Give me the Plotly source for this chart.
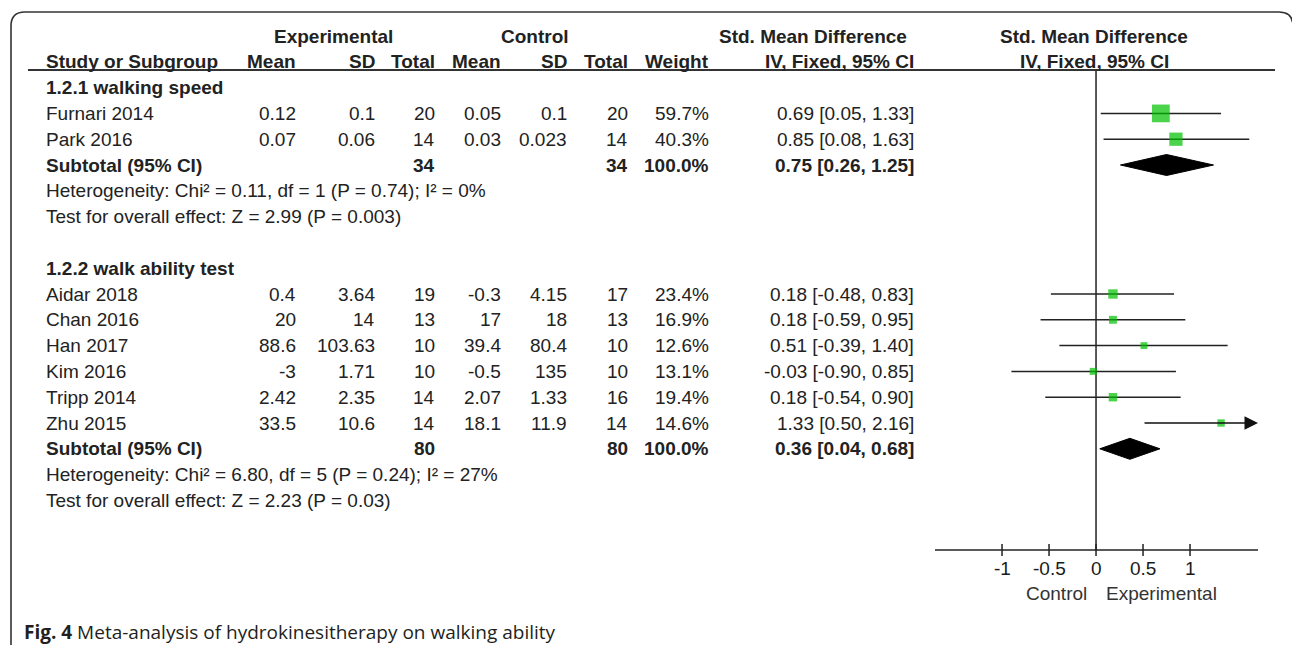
import plotly.graph_objects as go

W, H = 1292, 645

# ---------------- data ----------------
subgroups = ["1.2.1 walking speed", "1.2.2 walk ability test"]
study_group = [0, 0, 1, 1, 1, 1, 1, 1]
studies = ["Furnari 2014", "Park 2016", "Aidar 2018", "Chan 2016",
           "Han 2017", "Kim 2016", "Tripp 2014", "Zhu 2015"]
exp_mean = [0.12, 0.07, 0.4, 20, 88.6, -3, 2.42, 33.5]
exp_sd = [0.1, 0.06, 3.64, 14, 103.63, 1.71, 2.35, 10.6]
exp_n = [20, 14, 19, 13, 10, 10, 14, 14]
ctl_mean = [0.05, 0.03, -0.3, 17, 39.4, -0.5, 2.07, 18.1]
ctl_sd = [0.1, 0.023, 4.15, 18, 80.4, 135, 1.33, 11.9]
ctl_n = [20, 14, 17, 13, 10, 10, 16, 14]
weight = [59.7, 40.3, 23.4, 16.9, 12.6, 13.1, 19.4, 14.6]
smd = [0.69, 0.85, 0.18, 0.18, 0.51, -0.03, 0.18, 1.33]
ci_lo = [0.05, 0.08, -0.48, -0.59, -0.39, -0.90, -0.54, 0.50]
ci_hi = [1.33, 1.63, 0.83, 0.95, 1.40, 0.85, 0.90, 2.16]

sub_exp_n = [34, 80]
sub_ctl_n = [34, 80]
sub_weight = [100.0, 100.0]
sub_smd = [0.75, 0.36]
sub_lo = [0.26, 0.04]
sub_hi = [1.25, 0.68]
heterogeneity = ["Heterogeneity: Chi\u00b2 = 0.11, df = 1 (P = 0.74); I\u00b2 = 0%",
                 "Heterogeneity: Chi\u00b2 = 6.80, df = 5 (P = 0.24); I\u00b2 = 27%"]
overall = ["Test for overall effect: Z = 2.99 (P = 0.003)",
           "Test for overall effect: Z = 2.23 (P = 0.03)"]

x_ticks = [-1, -0.5, 0, 0.5, 1]
x_tick_labels = ["-1", "-0.5", "0", "0.5", "1"]
favours = ["Control", "Experimental"]
caption_label = "Fig. 4"
caption_text = "Meta-analysis of hydrokinesitherapy on walking ability"

# ---------------- layout constants ----------------
FONT = "Liberation Sans, Arial, sans-serif"
INK = "#222222"
GREEN = "#00C000"
ROW0, DY = 36, 25.8            # first header row and row pitch (px)
AX_LO, AX_HI = -1.713, 1.723   # forest-plot scale limits
FOREST_L, FOREST_R = 935, 1258
AXIS_Y = 550
HEAD_LINE_Y = 70
DIAMOND_HALF = 10.5

COL = dict(study=45, exp_mean=297, exp_sd=376, exp_n=436, ctl_mean=502,
           ctl_sd=568, ctl_n=629, weight=710, ci=915)


def row_y(i):
    return ROW0 + DY * i


def fmt(v):
    return f"{v:g}"


def ci_text(e, lo, hi):
    return f"{e:.2f} [{lo:.2f}, {hi:.2f}]"


annotations = []


def txt(x, y, s, anchor="left", bold=False, size=19, color=INK, xref="x", family=FONT, xshift=0):
    annotations.append(dict(
        x=x, y=y, xref=xref, yref="y", text=f"<b>{s}</b>" if bold else s,
        showarrow=False, xanchor=anchor, yanchor="middle", xshift=xshift,
        font=dict(family=family, size=size, color=color), borderpad=0))


# header rows
txt(333, row_y(0), "Experimental", "center", True)
txt(535, row_y(0), "Control", "center", True)
txt(908, row_y(0), "Std. Mean Difference", "right", True)
txt(1094, row_y(0), "Std. Mean Difference", "center", True)
txt(COL["study"], row_y(1), "Study or Subgroup", "left", True)
for key, label in [("exp_mean", "Mean"), ("exp_sd", "SD"), ("exp_n", "Total"),
                   ("ctl_mean", "Mean"), ("ctl_sd", "SD"), ("ctl_n", "Total"),
                   ("weight", "Weight"), ("ci", "IV, Fixed, 95% CI")]:
    txt(COL[key], row_y(1), label, "right", True)
txt(1094, row_y(1), "IV, Fixed, 95% CI", "center", True)

# body rows
study_rows = []
sub_rows = []
row = 2
for g, name in enumerate(subgroups):
    txt(COL["study"], row_y(row), name, "left", True)
    row += 1
    for k in range(len(studies)):
        if study_group[k] != g:
            continue
        y = row_y(row)
        study_rows.append(y)
        txt(COL["study"], y, studies[k])
        txt(COL["exp_mean"], y, fmt(exp_mean[k]), "right")
        txt(COL["exp_sd"], y, fmt(exp_sd[k]), "right")
        txt(COL["exp_n"], y, fmt(exp_n[k]), "right")
        txt(COL["ctl_mean"], y, fmt(ctl_mean[k]), "right")
        txt(COL["ctl_sd"], y, fmt(ctl_sd[k]), "right")
        txt(COL["ctl_n"], y, fmt(ctl_n[k]), "right")
        txt(COL["weight"], y, f"{weight[k]:.1f}%", "right")
        txt(COL["ci"], y, ci_text(smd[k], ci_lo[k], ci_hi[k]), "right")
        row += 1
    y = row_y(row)
    sub_rows.append(y)
    txt(COL["study"], y, "Subtotal (95% CI)", "left", True)
    txt(COL["exp_n"], y, fmt(sub_exp_n[g]), "right", True)
    txt(COL["ctl_n"], y, fmt(sub_ctl_n[g]), "right", True)
    txt(COL["weight"], y, f"{sub_weight[g]:.1f}%", "right", True)
    txt(COL["ci"], y, ci_text(sub_smd[g], sub_lo[g], sub_hi[g]), "right", True)
    row += 1
    txt(COL["study"], row_y(row), heterogeneity[g])
    row += 1
    txt(COL["study"], row_y(row), overall[g])
    row += 2

fig = go.Figure()
XY = dict(xaxis="x2", yaxis="y")

# zero line
fig.add_trace(go.Scatter(x=[0, 0], y=[HEAD_LINE_Y, AXIS_Y], mode="lines",
                         line=dict(color=INK, width=1.5), hoverinfo="skip", **XY))

# confidence intervals
cx, cy = [], []
for k in range(len(studies)):
    if ci_hi[k] > AX_HI:
        annotations.append(dict(
            x=AX_HI, y=study_rows[k], xref="x2", yref="y",
            ax=max(ci_lo[k], AX_LO), ay=study_rows[k], axref="x2", ayref="y",
            text="", showarrow=True, arrowhead=2, arrowsize=1.8, arrowwidth=1.5,
            arrowcolor="#111111", standoff=0, startstandoff=0))
        continue
    cx += [max(ci_lo[k], AX_LO), min(ci_hi[k], AX_HI), None]
    cy += [study_rows[k], study_rows[k], None]
fig.add_trace(go.Scatter(x=cx, y=cy, mode="lines", line=dict(color=INK, width=1.5),
                         hoverinfo="skip", **XY))

# study estimates, box size grows with weight
fig.add_trace(go.Scatter(
    x=smd, y=study_rows, mode="markers",
    marker=dict(symbol="square", color=GREEN, size=[4 + 0.23 * w for w in weight],
                line=dict(width=0)),
    hoverinfo="skip", **XY))

# pooled diamonds
for g in range(len(subgroups)):
    y = sub_rows[g]
    fig.add_trace(go.Scatter(
        x=[sub_lo[g], sub_smd[g], sub_hi[g], sub_smd[g], sub_lo[g]],
        y=[y, y - DIAMOND_HALF, y, y + DIAMOND_HALF, y], mode="lines", fill="toself",
        fillcolor="#000000", line=dict(color="#000000", width=1),
        hoverinfo="skip", **XY))

# forest axis with ticks crossing the line
fig.add_trace(go.Scatter(x=[AX_LO, AX_HI], y=[AXIS_Y, AXIS_Y], mode="lines",
                         line=dict(color=INK, width=1.5), hoverinfo="skip", **XY))
tx, ty = [], []
for t in x_ticks:
    tx += [t, t, None]
    ty += [AXIS_Y - 6, AXIS_Y + 6, None]
fig.add_trace(go.Scatter(x=tx, y=ty, mode="lines", line=dict(color=INK, width=1.5),
                         hoverinfo="skip", **XY))
for t, lab in zip(x_ticks, x_tick_labels):
    txt(t, 568, lab, "center", xref="x2", color="#1a1a1a")
txt(0, 593, favours[0], "right", xref="x2", color="#333333", xshift=-8)
txt(0, 593, favours[1], "left", xref="x2", color="#333333", xshift=9)

# caption
annotations.append(dict(
    x=22, y=632, xref="x", yref="y", showarrow=False, xanchor="left", yanchor="middle",
    text=f"<b>{caption_label}</b> {caption_text}",
    font=dict(family="Open Sans, Noto Sans, sans-serif", size=19, color="#231f20")))

shapes = [
    # frame with rounded top corners
    dict(type="path", xref="x", yref="y",
         path="M 11 646 L 11 26 Q 11 12 25 12 L 1279 12 Q 1293 12 1293 26 L 1293 646",
         line=dict(color="#333333", width=1.6)),
    # header rule
    dict(type="line", xref="x", yref="y", x0=28, x1=1275, y0=HEAD_LINE_Y, y1=HEAD_LINE_Y,
         line=dict(color="#333333", width=2)),
]

fig.update_layout(
    width=W, height=H, autosize=False,
    margin=dict(l=0, r=0, t=0, b=0, pad=0),
    paper_bgcolor="white", plot_bgcolor="white",
    showlegend=False,
    xaxis=dict(range=[0, W], domain=[0, 1], visible=False, fixedrange=True),
    xaxis2=dict(range=[AX_LO, AX_HI], domain=[FOREST_L / W, FOREST_R / W],
                anchor="y", visible=False, fixedrange=True),
    yaxis=dict(range=[H, 0], domain=[0, 1], visible=False, fixedrange=True),
    annotations=annotations,
    shapes=shapes,
)

fig.write_html("out.html", config=dict(displayModeBar=False),
               post_script="document.body.style.margin='0';")
